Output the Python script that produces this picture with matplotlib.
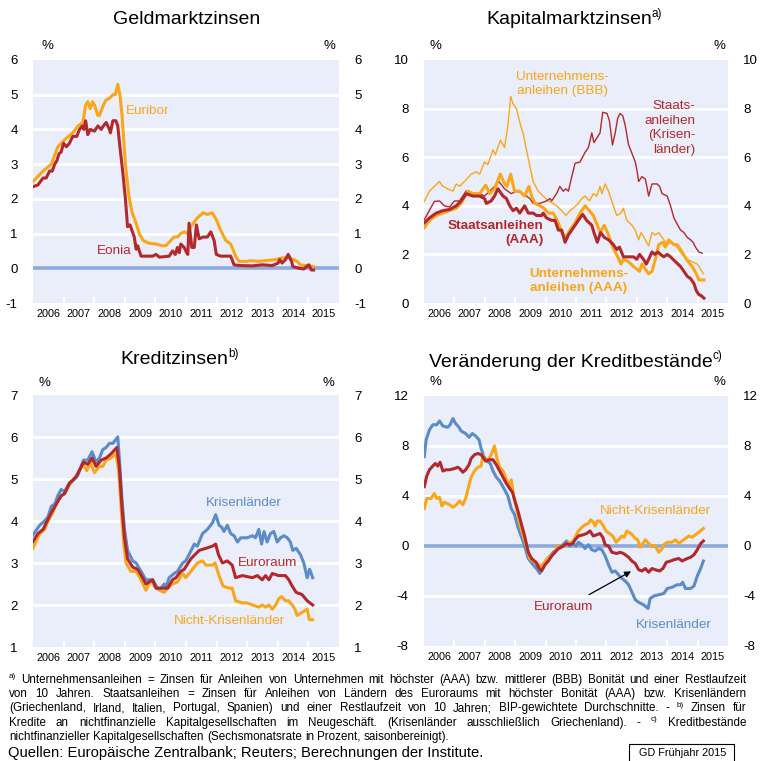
import matplotlib
matplotlib.use('Agg')
import matplotlib.pyplot as plt
import numpy as np

# ─────────────────────────────────────────────────────────────────────────────
# DATA (decimal years)
# ─────────────────────────────────────────────────────────────────────────────
euribor_t = [2006.00, 2006.33, 2006.60, 2006.81, 2007.03, 2007.30, 2007.47, 2007.63, 2007.72, 2007.79,
             2007.87, 2007.95, 2008.01, 2008.12, 2008.17, 2008.30, 2008.39, 2008.50, 2008.61, 2008.69,
             2008.77, 2008.84, 2008.91, 2009.02, 2009.13, 2009.24, 2009.37, 2009.47, 2009.60, 2009.80,
             2010.02, 2010.23, 2010.34, 2010.45, 2010.61, 2010.72, 2010.83, 2010.94, 2011.05, 2011.16,
             2011.32, 2011.43, 2011.56, 2011.70, 2011.86, 2011.99, 2012.13, 2012.30, 2012.46, 2012.51,
             2012.62, 2012.73, 2013.00, 2013.11, 2013.33, 2013.60, 2013.93, 2014.14, 2014.36, 2014.52,
             2014.63, 2014.74, 2014.90, 2015.17]
euribor_v = [2.5, 2.8, 3.0, 3.5, 3.7, 3.9, 4.1, 4.2, 4.7, 4.8,
             4.6, 4.8, 4.7, 4.4, 4.4, 4.7, 4.85, 4.9, 5.0, 5.0,
             5.3, 5.0, 4.4, 3.0, 2.1, 1.6, 1.3, 1.0, 0.8, 0.72,
             0.7, 0.65, 0.65, 0.75, 0.9, 0.9, 1.0, 1.05, 1.0, 1.2,
             1.4, 1.5, 1.6, 1.55, 1.6, 1.4, 1.1, 0.8, 0.7, 0.6,
             0.35, 0.2, 0.2, 0.22, 0.2, 0.22, 0.25, 0.3, 0.3, 0.25,
             0.2, 0.1, 0.08, 0.05]

eonia_t = [2006.00, 2006.16, 2006.33, 2006.43, 2006.54, 2006.63, 2006.71, 2006.78, 2006.85, 2006.92,
           2007.00, 2007.09, 2007.19, 2007.30, 2007.43, 2007.52, 2007.61, 2007.66, 2007.72, 2007.79,
           2007.87, 2008.01, 2008.12, 2008.23, 2008.30, 2008.39, 2008.50, 2008.53, 2008.61, 2008.71,
           2008.77, 2008.84, 2008.93, 2009.02, 2009.09, 2009.17, 2009.31, 2009.37, 2009.42, 2009.53,
           2009.91, 2010.02, 2010.13, 2010.45, 2010.56, 2010.65, 2010.72, 2010.78, 2010.83, 2010.94,
           2011.02, 2011.06, 2011.10, 2011.19, 2011.27, 2011.34, 2011.43, 2011.56, 2011.70, 2011.81,
           2011.92, 2011.99, 2012.13, 2012.46, 2012.57, 2012.73, 2013.17, 2013.49, 2013.82, 2014.01,
           2014.06, 2014.14, 2014.25, 2014.34, 2014.45, 2014.49, 2014.69, 2014.85, 2015.01, 2015.10,
           2015.17]
eonia_v = [2.35, 2.4, 2.6, 2.6, 2.8, 2.8, 3.0, 3.1, 3.3, 3.35,
           3.6, 3.5, 3.6, 3.8, 3.8, 4.0, 4.1, 4.0, 4.25, 3.85,
           4.0, 3.95, 4.1, 4.0, 4.1, 4.2, 4.0, 3.9, 4.25, 4.25,
           4.1, 3.5, 2.8, 2.0, 1.2, 1.25, 0.9, 0.55, 0.65, 0.35,
           0.35, 0.4, 0.32, 0.35, 0.5, 0.4, 0.6, 0.45, 0.7, 0.6,
           0.45, 0.4, 1.3, 0.6, 0.6, 1.25, 0.85, 0.9, 0.9, 1.05,
           0.8, 0.4, 0.35, 0.35, 0.1, 0.08, 0.07, 0.1, 0.08, 0.15,
           0.25, 0.15, 0.25, 0.4, 0.2, 0.05, 0.0, -0.02, 0.1, -0.05,
           -0.05]

krisen_gov_t = [2006.01, 2006.34, 2006.51, 2006.67, 2006.84, 2007.00, 2007.17, 2007.39, 2007.61, 2007.83,
                2007.99, 2008.16, 2008.32, 2008.46, 2008.65, 2008.87, 2009.04, 2009.26, 2009.48, 2009.59,
                2009.81, 2010.03, 2010.14, 2010.20, 2010.36, 2010.47, 2010.58, 2010.67, 2010.75, 2010.86,
                2010.97, 2011.13, 2011.30, 2011.41, 2011.52, 2011.59, 2011.74, 2011.79, 2011.88, 2012.02,
                2012.10, 2012.20, 2012.29, 2012.37, 2012.45, 2012.54, 2012.62, 2012.73, 2012.86, 2012.95,
                2013.00, 2013.06, 2013.17, 2013.28, 2013.33, 2013.39, 2013.50, 2013.67, 2013.75, 2013.83,
                2014.00, 2014.11, 2014.22, 2014.35, 2014.44, 2014.55, 2014.66, 2014.77, 2014.85, 2014.93,
                2015.04, 2015.15]
krisen_gov_v = [3.43, 4.18, 4.2, 4.0, 3.95, 4.2, 4.2, 4.62, 4.5, 4.5,
                4.4, 4.6, 4.8, 5.0, 4.7, 4.5, 4.6, 4.5, 4.3, 4.1,
                4.1, 4.2, 4.3, 4.2, 4.5, 4.8, 4.6, 4.7, 4.6, 5.2,
                5.75, 5.8, 6.2, 6.4, 7.0, 6.6, 6.9, 7.0, 7.85, 7.8,
                7.5, 6.5, 7.0, 7.6, 7.8, 7.7, 7.3, 6.5, 6.1, 5.8,
                5.5, 5.0, 5.2, 5.1, 4.8, 4.4, 4.9, 4.9, 4.8, 4.5,
                4.4, 4.0, 3.5, 3.2, 3.0, 2.9, 2.7, 2.6, 2.5, 2.3,
                2.1, 2.05]

bbb_t = [2006.01, 2006.18, 2006.34, 2006.51, 2006.62, 2006.78, 2006.95, 2007.06, 2007.17, 2007.33,
         2007.55, 2007.72, 2007.83, 2007.99, 2008.10, 2008.27, 2008.35, 2008.51, 2008.65, 2008.76,
         2008.85, 2008.93, 2009.04, 2009.20, 2009.26, 2009.37, 2009.59, 2009.76, 2009.92, 2010.09,
         2010.25, 2010.36, 2010.53, 2010.67, 2010.80, 2010.91, 2011.08, 2011.19, 2011.30, 2011.44,
         2011.57, 2011.68, 2011.79, 2011.85, 2011.96, 2012.07, 2012.23, 2012.34, 2012.48, 2012.56,
         2012.67, 2012.84, 2012.95, 2013.06, 2013.14, 2013.28, 2013.39, 2013.50, 2013.61, 2013.72,
         2013.89, 2014.00, 2014.11, 2014.33, 2014.49, 2014.66, 2014.82, 2014.99, 2015.19]
bbb_v = [4.18, 4.6, 4.8, 5.0, 4.8, 4.7, 4.6, 4.9, 4.8, 5.0,
         5.3, 5.4, 5.3, 5.8, 5.7, 6.3, 6.1, 6.7, 6.4, 7.3,
         8.5, 8.2, 8.0, 7.2, 7.0, 6.3, 5.0, 4.6, 4.4, 4.2,
         4.1, 4.0, 3.8, 3.6, 3.8, 3.9, 4.1, 4.3, 4.4, 4.2,
         4.5, 4.4, 4.8, 4.5, 4.9, 4.6, 4.0, 3.6, 3.7, 3.9,
         3.4, 3.2, 3.0, 2.6, 2.9, 2.6, 2.35, 2.9, 2.8, 2.9,
         2.6, 2.4, 2.5, 2.3, 2.0, 1.8, 1.7, 1.6, 1.2]

aaa_gov_t = [2006.01, 2006.18, 2006.40, 2006.62, 2006.84, 2007.06, 2007.22, 2007.39, 2007.61, 2007.83,
             2007.99, 2008.05, 2008.21, 2008.32, 2008.43, 2008.60, 2008.71, 2008.82, 2008.93, 2009.04,
             2009.15, 2009.31, 2009.43, 2009.59, 2009.70, 2009.87, 2009.92, 2010.03, 2010.20, 2010.31,
             2010.42, 2010.53, 2010.64, 2010.75, 2010.86, 2010.97, 2011.13, 2011.22, 2011.35, 2011.52,
             2011.59, 2011.70, 2011.81, 2011.93, 2012.07, 2012.23, 2012.34, 2012.43, 2012.56, 2012.73,
             2012.89, 2013.00, 2013.09, 2013.22, 2013.31, 2013.39, 2013.50, 2013.59, 2013.69, 2013.78,
             2013.89, 2014.00, 2014.11, 2014.27, 2014.44, 2014.55, 2014.66, 2014.77, 2014.88, 2014.96,
             2015.04, 2015.12, 2015.21]
aaa_gov_v = [3.3, 3.5, 3.7, 3.8, 3.85, 4.0, 4.2, 4.5, 4.4, 4.4,
             4.3, 4.1, 4.2, 4.4, 4.7, 4.4, 4.3, 4.0, 3.8, 3.9,
             3.7, 4.0, 3.7, 3.7, 3.6, 3.6, 3.7, 3.5, 3.4, 3.4,
             3.0, 3.0, 2.5, 2.8, 3.0, 3.2, 3.5, 3.65, 3.4, 3.2,
             2.9, 2.5, 2.9, 2.7, 2.6, 2.4, 2.2, 2.3, 1.9, 1.9,
             1.9, 1.8, 2.0, 1.8, 1.6, 1.8, 2.1, 2.0, 2.1, 2.0,
             1.9, 2.0, 1.9, 1.7, 1.5, 1.3, 1.1, 1.0, 0.8, 0.5,
             0.35, 0.3, 0.2]

aaa_corp_t = [2006.01, 2006.18, 2006.40, 2006.62, 2006.84, 2007.06, 2007.22, 2007.44, 2007.61, 2007.83,
              2008.03, 2008.16, 2008.32, 2008.51, 2008.65, 2008.73, 2008.85, 2008.98, 2009.15, 2009.31,
              2009.45, 2009.54, 2009.65, 2009.81, 2009.95, 2010.09, 2010.25, 2010.42, 2010.53, 2010.66,
              2010.80, 2010.97, 2011.13, 2011.30, 2011.44, 2011.57, 2011.70, 2011.79, 2011.93, 2012.07,
              2012.21, 2012.29, 2012.37, 2012.48, 2012.56, 2012.73, 2012.89, 2013.00, 2013.09, 2013.17,
              2013.28, 2013.39, 2013.50, 2013.61, 2013.72, 2013.86, 2013.94, 2014.05, 2014.22, 2014.33,
              2014.49, 2014.63, 2014.82, 2014.96, 2015.04, 2015.21]
aaa_corp_v = [3.1, 3.4, 3.6, 3.7, 3.8, 3.9, 4.1, 4.6, 4.5, 4.5,
              4.85, 4.5, 4.7, 5.3, 4.9, 4.8, 5.3, 4.6, 4.6, 4.4,
              4.8, 4.4, 4.1, 4.0, 3.9, 3.7, 3.7, 3.3, 2.9, 2.7,
              3.0, 3.3, 3.7, 4.0, 3.8, 3.6, 3.2, 2.9, 3.2, 2.8,
              2.3, 2.1, 1.9, 1.6, 1.8, 1.7, 1.5, 1.4, 1.3, 1.6,
              1.4, 1.2, 1.3, 1.8, 2.4, 2.5, 2.3, 2.6, 2.4, 2.4,
              2.1, 1.8, 1.5, 1.2, 0.95, 0.95]

# Kreditzinsen
kz_krisen_t = [2006.00, 2006.22, 2006.38, 2006.49, 2006.60, 2006.71, 2006.81, 2006.92, 2007.03, 2007.19,
               2007.36, 2007.47, 2007.65, 2007.79, 2007.93, 2008.06, 2008.17, 2008.28, 2008.39, 2008.50,
               2008.61, 2008.77, 2008.82, 2008.91, 2008.99, 2009.09, 2009.26, 2009.37, 2009.53, 2009.69,
               2009.91, 2010.07, 2010.18, 2010.29, 2010.34, 2010.45, 2010.61, 2010.72, 2010.89, 2010.99,
               2011.10, 2011.27, 2011.37, 2011.54, 2011.70, 2011.86, 2011.97, 2012.08, 2012.17, 2012.24,
               2012.35, 2012.46, 2012.57, 2012.68, 2012.79, 2013.00, 2013.17, 2013.27, 2013.38, 2013.47,
               2013.55, 2013.65, 2013.76, 2013.87, 2013.98, 2014.09, 2014.20, 2014.31, 2014.41, 2014.49,
               2014.60, 2014.74, 2014.85, 2014.96, 2015.04, 2015.14]
kz_krisen_v = [3.67, 3.9, 4.0, 4.1, 4.35, 4.4, 4.6, 4.75, 4.7, 4.9,
               5.0, 5.1, 5.45, 5.45, 5.65, 5.4, 5.5, 5.7, 5.75, 5.85,
               5.85, 6.0, 5.5, 4.5, 3.8, 3.3, 3.05, 3.0, 2.8, 2.6,
               2.6, 2.4, 2.4, 2.5, 2.4, 2.65, 2.75, 2.8, 3.0, 3.05,
               3.2, 3.45, 3.4, 3.7, 3.8, 3.95, 4.15, 3.9, 3.85, 3.75,
               3.9, 3.7, 3.65, 3.5, 3.6, 3.6, 3.65, 3.6, 3.8, 3.45,
               3.75, 3.5, 3.7, 3.75, 3.5, 3.6, 3.65, 3.6, 3.5, 3.3,
               3.35, 3.2, 3.0, 2.65, 2.85, 2.65]

kz_euro_t = [2006.00, 2006.16, 2006.33, 2006.43, 2006.60, 2006.76, 2006.92, 2007.03, 2007.19, 2007.41,
             2007.65, 2007.79, 2007.93, 2008.06, 2008.23, 2008.39, 2008.55, 2008.74, 2008.82, 2008.91,
             2008.99, 2009.09, 2009.26, 2009.42, 2009.58, 2009.69, 2009.91, 2010.02, 2010.23, 2010.40,
             2010.56, 2010.67, 2010.83, 2010.94, 2011.16, 2011.43, 2011.65, 2011.86, 2011.97, 2012.06,
             2012.19, 2012.35, 2012.51, 2012.62, 2012.84, 2013.17, 2013.33, 2013.49, 2013.60, 2013.71,
             2013.82, 2014.03, 2014.25, 2014.36, 2014.47, 2014.60, 2014.79, 2014.96, 2015.14]
kz_euro_v = [3.51, 3.7, 3.8, 3.95, 4.2, 4.4, 4.6, 4.65, 4.9, 5.05,
             5.4, 5.35, 5.5, 5.3, 5.45, 5.5, 5.6, 5.75, 5.3, 4.3,
             3.6, 3.1, 2.9, 2.85, 2.65, 2.5, 2.6, 2.4, 2.4, 2.4,
             2.6, 2.65, 2.8, 2.85, 3.1, 3.3, 3.35, 3.4, 3.45, 3.2,
             3.0, 3.05, 2.95, 2.65, 2.7, 2.65, 2.7, 2.6, 2.7, 2.6,
             2.75, 2.7, 2.7, 2.6, 2.45, 2.3, 2.25, 2.1, 2.0]

kz_nicht_t = [2006.00, 2006.22, 2006.38, 2006.49, 2006.65, 2006.78, 2006.92, 2007.03, 2007.19, 2007.39,
              2007.63, 2007.76, 2007.87, 2008.01, 2008.17, 2008.28, 2008.39, 2008.55, 2008.71, 2008.80,
              2008.89, 2008.96, 2009.04, 2009.20, 2009.37, 2009.53, 2009.69, 2009.85, 2009.96, 2010.13,
              2010.29, 2010.40, 2010.56, 2010.72, 2010.89, 2010.99, 2011.16, 2011.37, 2011.54, 2011.65,
              2011.86, 2011.95, 2012.08, 2012.21, 2012.41, 2012.51, 2012.62, 2012.84, 2013.00, 2013.17,
              2013.38, 2013.49, 2013.60, 2013.71, 2013.82, 2013.93, 2014.03, 2014.12, 2014.25, 2014.36,
              2014.47, 2014.56, 2014.63, 2014.74, 2014.85, 2014.96, 2015.03, 2015.14]
kz_nicht_v = [3.35, 3.7, 3.8, 4.0, 4.2, 4.45, 4.6, 4.65, 4.85, 5.05,
              5.35, 5.2, 5.4, 5.15, 5.3, 5.3, 5.45, 5.5, 5.6, 5.2,
              4.2, 3.5, 3.0, 2.8, 2.8, 2.6, 2.35, 2.6, 2.45, 2.35,
              2.3, 2.4, 2.5, 2.55, 2.75, 2.65, 2.8, 3.0, 3.05, 2.95,
              2.95, 3.0, 2.7, 2.45, 2.4, 2.4, 2.1, 2.05, 2.05, 2.0,
              1.95, 2.0, 1.95, 2.0, 1.9, 2.0, 2.15, 2.2, 2.1, 2.1,
              2.0, 1.9, 1.75, 1.8, 1.85, 1.9, 1.65, 1.65]

# Veränderung der Kreditbestände
kb_krisen_t = [2006.01, 2006.07, 2006.18, 2006.29, 2006.42, 2006.51, 2006.62, 2006.78, 2006.86, 2006.95,
               2007.04, 2007.15, 2007.22, 2007.37, 2007.48, 2007.59, 2007.70, 2007.81, 2007.88, 2007.96,
               2008.07, 2008.18, 2008.27, 2008.38, 2008.49, 2008.65, 2008.76, 2008.87, 2008.98, 2009.09,
               2009.24, 2009.31, 2009.43, 2009.59, 2009.70, 2009.81, 2009.92, 2010.03, 2010.14, 2010.25,
               2010.42, 2010.53, 2010.69, 2010.80, 2010.91, 2011.00, 2011.08, 2011.19, 2011.30, 2011.41,
               2011.52, 2011.63, 2011.74, 2011.85, 2011.96, 2012.07, 2012.18, 2012.29, 2012.40, 2012.51,
               2012.62, 2012.73, 2012.86, 2012.95, 2013.06, 2013.22, 2013.37, 2013.44, 2013.56, 2013.72,
               2013.89, 2014.00, 2014.16, 2014.33, 2014.44, 2014.51, 2014.60, 2014.77, 2014.88, 2014.99,
               2015.10, 2015.19]
kb_krisen_v = [7.15, 8.5, 9.3, 9.7, 9.7, 10.0, 9.6, 9.5, 9.7, 10.2,
               9.8, 9.5, 9.2, 9.0, 8.7, 9.0, 8.8, 8.5, 7.8, 7.2,
               6.8, 6.6, 6.0, 5.5, 5.2, 4.5, 4.0, 3.0, 2.5, 1.5,
               0.5, 0.0, -1.0, -1.5, -1.8, -2.2, -1.5, -1.2, -0.8, -0.5,
               -0.2, 0.0, 0.4, 0.0, 0.2, 0.0, 0.3, 0.1, -0.2, 0.1,
               -0.3, -0.4, -0.2, -0.3, -0.8, -1.5, -2.1, -2.0, -2.3, -2.6,
               -2.8, -3.1, -3.8, -4.3, -4.5, -4.7, -5.0, -4.2, -4.0, -3.9,
               -3.8, -3.4, -3.3, -3.1, -3.1, -2.9, -3.4, -3.4, -3.2, -2.4,
               -1.8, -1.2]

kb_euro_t = [2006.01, 2006.09, 2006.18, 2006.29, 2006.37, 2006.45, 2006.53, 2006.62, 2006.73, 2006.84,
             2007.01, 2007.11, 2007.17, 2007.28, 2007.37, 2007.48, 2007.55, 2007.66, 2007.77, 2007.88,
             2008.03, 2008.16, 2008.27, 2008.38, 2008.49, 2008.60, 2008.71, 2008.82, 2008.91, 2008.98,
             2009.09, 2009.20, 2009.31, 2009.43, 2009.54, 2009.68, 2009.79, 2009.87, 2009.98, 2010.09,
             2010.20, 2010.31, 2010.42, 2010.58, 2010.69, 2010.78, 2010.89, 2010.97, 2011.08, 2011.24,
             2011.35, 2011.46, 2011.57, 2011.68, 2011.79, 2011.88, 2011.96, 2012.07, 2012.18, 2012.34,
             2012.45, 2012.56, 2012.73, 2012.84, 2012.95, 2013.06, 2013.17, 2013.28, 2013.39, 2013.50,
             2013.61, 2013.75, 2013.86, 2013.97, 2014.11, 2014.22, 2014.38, 2014.49, 2014.66, 2014.77,
             2014.88, 2014.99, 2015.10, 2015.19]
kb_euro_v = [4.75, 5.6, 6.1, 6.4, 6.6, 6.4, 6.7, 6.0, 6.1, 6.1,
             6.2, 6.3, 6.2, 5.9, 6.1, 6.5, 7.0, 7.3, 7.4, 7.3,
             6.8, 6.9, 6.9, 6.5, 6.0, 5.5, 5.0, 4.6, 4.3, 3.7,
             2.8, 1.8, 0.8, -0.5, -1.0, -1.3, -1.8, -2.0, -1.5, -1.2,
             -0.8, -0.5, -0.2, 0.0, 0.2, 0.1, 0.2, 0.5, 0.8, 0.9,
             1.0, 1.2, 0.8, 0.9, 1.0, 0.7, 0.1, 0.0, -0.5, -0.6,
             -0.5, -0.6, -0.9, -1.2, -1.4, -1.9, -2.0, -1.8, -2.1, -1.8,
             -1.9, -2.0, -1.8, -1.3, -1.2, -1.1, -1.0, -1.2, -1.0, -0.9,
             -0.7, -0.3, 0.2, 0.4]

kb_nicht_t = [2006.01, 2006.09, 2006.23, 2006.34, 2006.42, 2006.51, 2006.59, 2006.67, 2006.84, 2006.95,
              2007.06, 2007.17, 2007.28, 2007.37, 2007.44, 2007.55, 2007.66, 2007.77, 2007.88, 2007.94,
              2008.03, 2008.14, 2008.21, 2008.32, 2008.40, 2008.49, 2008.60, 2008.73, 2008.80, 2008.87,
              2008.95, 2009.04, 2009.13, 2009.24, 2009.37, 2009.48, 2009.59, 2009.70, 2009.83, 2009.94,
              2010.05, 2010.20, 2010.31, 2010.39, 2010.47, 2010.58, 2010.75, 2010.89, 2010.97, 2011.08,
              2011.19, 2011.30, 2011.41, 2011.48, 2011.57, 2011.63, 2011.70, 2011.79, 2011.90, 2011.99,
              2012.10, 2012.21, 2012.32, 2012.40, 2012.51, 2012.59, 2012.67, 2012.81, 2012.95, 2013.03,
              2013.11, 2013.20, 2013.28, 2013.39, 2013.50, 2013.61, 2013.72, 2013.81, 2013.89, 2014.00,
              2014.16, 2014.27, 2014.38, 2014.49, 2014.60, 2014.71, 2014.82, 2014.93, 2015.04, 2015.19]
kb_nicht_v = [3.0, 3.8, 3.8, 4.2, 3.8, 3.9, 3.2, 3.5, 3.3, 3.1,
              3.3, 3.6, 3.3, 3.8, 4.5, 5.5, 6.0, 6.3, 6.4, 7.2,
              6.8, 7.0, 7.3, 8.0, 7.0, 6.3, 6.0, 5.2, 4.8, 5.3,
              4.0, 3.0, 2.0, 1.0, 0.0, -1.0, -1.2, -1.3, -1.7, -1.4,
              -1.0, -0.7, -0.5, 0.0, -0.2, 0.0, 0.3, 0.3, 0.7, 1.2,
              1.5, 1.7, 1.8, 2.1, 1.9, 1.6, 2.0, 2.0, 1.6, 1.2,
              1.0, 0.8, 0.3, 0.5, 0.8, 0.7, 1.2, 1.0, 0.6, 0.5,
              -0.1, 0.2, 0.5, 0.2, 0.0, 0.0, -0.5, -0.3, 0.1, 0.3,
              0.3, 0.5, 0.2, 0.4, 0.6, 0.8, 0.7, 0.9, 1.1, 1.4]

years = list(range(2006, 2016))

footnote_lines = [
    "^a) Unternehmensanleihen = Zinsen für Anleihen von Unternehmen mit höchster (AAA) bzw. mittlerer (BBB) Bonität und einer Restlaufzeit",
    "von 10 Jahren. Staatsanleihen = Zinsen für Anleihen von Ländern des Euroraums mit höchster Bonität (AAA) bzw. Krisenländern",
    "(Griechenland, Irland, Italien, Portugal, Spanien) und einer Restlaufzeit von 10 Jahren; BIP-gewichtete Durchschnitte. - ^b) Zinsen für",
    "Kredite an nichtfinanzielle Kapitalgesellschaften im Neugeschäft. (Krisenländer ausschließlich Griechenland). - ^c) Kreditbestände",
    "nichtfinanzieller Kapitalgesellschaften (Sechsmonatsrate in Prozent, saisonbereinigt).",
]
source_text = "Quellen: Europäische Zentralbank; Reuters; Berechnungen der Institute."
stamp_text = "GD Frühjahr 2015"

# ─────────────────────────────────────────────────────────────────────────────
# STYLE
# ─────────────────────────────────────────────────────────────────────────────
BG = '#E9EEFA'
ORANGE = '#FAA61A'
RED = '#B3282D'
BLUE = '#5B8CC8'
ZERO = '#8EA9DB'
W = H = 761

plt.rcParams['font.family'] = ['Liberation Sans', 'DejaVu Sans']
NARROW = ['Liberation Sans Narrow', 'Liberation Sans', 'DejaVu Sans']

fig = plt.figure(figsize=(7.61, 7.61), dpi=100)


def px(x, y):
    """Pixel position (from top-left) -> figure fraction."""
    return x / W, 1 - y / H


def make_axes(left, top, right, bottom, ylim, yticks, zero=False):
    ax = fig.add_axes([left / W, 1 - bottom / H, (right - left) / W, (bottom - top) / H])
    ax.set_facecolor(BG)
    ax.set_xlim(2006, 2016)
    ax.set_ylim(*ylim)
    ax.set_yticks(yticks)
    ax.set_yticklabels([f'{t:g}' for t in yticks])
    ax.tick_params(axis='y', length=0, labelsize=9.5, pad=11, labelright=True, right=False)
    ax.set_xticks(np.array(years) + 0.5)
    ax.set_xticklabels([str(y) for y in years])
    ax.set_xticks(np.array(years[1:]), minor=True)
    ax.tick_params(axis='x', which='major', length=0, labelsize=7.8, pad=4)
    ax.tick_params(axis='x', which='minor', direction='in', length=4, width=1.5, color='white')
    for s in ax.spines.values():
        s.set_visible(False)
    for t in yticks[1:-1]:
        ax.axhline(t, color='white', lw=2, zorder=1)
    if zero:
        ax.axhline(0, color=ZERO, lw=2.6, zorder=2)
    return ax


def percent(xl, xr, y):
    fig.text(*px(xl, y), '%', ha='center', va='center', fontsize=9.5)
    fig.text(*px(xr, y), '%', ha='center', va='center', fontsize=9.5)


# ─────────────────────────────────────────────────────────────────────────────
# PANEL 1: Geldmarktzinsen
# ─────────────────────────────────────────────────────────────────────────────
ax1 = make_axes(33, 60, 339, 303, (-1, 6), list(range(-1, 7)), zero=True)
ax1.plot(euribor_t, euribor_v, color=ORANGE, lw=2.2, zorder=3)
ax1.plot(eonia_t, eonia_v, color=RED, lw=2.2, zorder=4)
ax1.text(2009.75, 4.52, 'Euribor', color=ORANGE, fontsize=9.7, ha='center', va='center')
ax1.text(2008.64, 0.5, 'Eonia', color=RED, fontsize=9.7, ha='center', va='center')
percent(47, 329, 46)

# ─────────────────────────────────────────────────────────────────────────────
# PANEL 2: Kapitalmarktzinsen
# ─────────────────────────────────────────────────────────────────────────────
ax2 = make_axes(424, 60, 728, 303, (0, 10), list(range(0, 11, 2)))
ax2.plot(bbb_t, bbb_v, color=ORANGE, lw=1.0, zorder=3)
ax2.plot(krisen_gov_t, krisen_gov_v, color=RED, lw=1.0, zorder=3)
ax2.plot(aaa_corp_t, aaa_corp_v, color=ORANGE, lw=2.2, zorder=4)
ax2.plot(aaa_gov_t, aaa_gov_v, color=RED, lw=2.2, zorder=5)
ax2.text(2010.56, 9.0, 'Unternehmens-\nanleihen (BBB)', color=ORANGE, fontsize=9.7,
         ha='center', va='center', linespacing=1.2)
ax2.text(2014.93, 7.2, 'Staats-\nanleihen\n(Krisen-\nländer)', color=RED, fontsize=9.7,
         ha='right', va='center', multialignment='right', linespacing=1.3)
ax2.text(2009.92, 2.89, 'Staatsanleihen\n(AAA)', color=RED, fontsize=9.7, fontweight='bold',
         ha='right', va='center', multialignment='right', linespacing=1.2)
ax2.text(2011.08, 0.91, 'Unternehmens-\nanleihen (AAA)', color=ORANGE, fontsize=9.7,
         fontweight='bold', ha='center', va='center', linespacing=1.25)
percent(435, 719, 46)

# ─────────────────────────────────────────────────────────────────────────────
# PANEL 3: Kreditzinsen
# ─────────────────────────────────────────────────────────────────────────────
ax3 = make_axes(33, 395, 339, 647, (1, 7), list(range(1, 8)))
ax3.plot(kz_nicht_t, kz_nicht_v, color=ORANGE, lw=2.2, zorder=3)
ax3.plot(kz_euro_t, kz_euro_v, color=RED, lw=2.2, zorder=4)
ax3.plot(kz_krisen_t, kz_krisen_v, color=BLUE, lw=2.2, zorder=3)
ax3.text(2012.89, 4.44, 'Krisenländer', color=BLUE, fontsize=9.7, ha='center', va='center')
ax3.text(2013.65, 3.0, 'Euroraum', color=RED, fontsize=9.7, ha='center', va='center')
ax3.text(2012.41, 1.61, 'Nicht-Krisenländer', color=ORANGE, fontsize=9.7, ha='center', va='center')
percent(44, 328, 383)

# ─────────────────────────────────────────────────────────────────────────────
# PANEL 4: Veränderung der Kreditbestände
# ─────────────────────────────────────────────────────────────────────────────
ax4 = make_axes(424, 396, 728, 646, (-8, 12), list(range(-8, 13, 4)), zero=True)
ax4.plot(kb_krisen_t, kb_krisen_v, color=BLUE, lw=2.2, zorder=3)
ax4.plot(kb_nicht_t, kb_nicht_v, color=ORANGE, lw=2.2, zorder=4)
ax4.plot(kb_euro_t, kb_euro_v, color=RED, lw=2.2, zorder=5)
ax4.text(2013.61, 2.83, 'Nicht-Krisenländer', color=ORANGE, fontsize=9.7, ha='center', va='center')
ax4.text(2010.58, -4.85, 'Euroraum', color=RED, fontsize=9.7, ha='center', va='center')
ax4.text(2014.22, -6.3, 'Krisenländer', color=BLUE, fontsize=9.7, ha='center', va='center')
ax4.annotate('', xy=(2012.89, -1.92), xytext=(2011.35, -4.0),
             arrowprops=dict(arrowstyle='-|>', color='black', lw=0.9, mutation_scale=9), zorder=6)
percent(435, 719, 382)

# ─────────────────────────────────────────────────────────────────────────────
# TITLES (superscript placed right after each title)
# ─────────────────────────────────────────────────────────────────────────────
for xc, y, text, sup in [(187, 20, 'Geldmarktzinsen', None),
                         (569, 20, 'Kapitalmarktzinsen', 'a)'),
                         (174, 360, 'Kreditzinsen', 'b)'),
                         (571, 362, 'Veränderung der Kreditbestände', 'c)')]:
    t = fig.text(*px(xc, y), text, ha='center', va='center', fontsize=14)
    if sup:
        fig.add_artist(matplotlib.text.Annotation(sup, xy=(1.0, 0.5), xycoords=t,
                                                  fontsize=8.5, ha='left', va='bottom'))

# ─────────────────────────────────────────────────────────────────────────────
# FOOTNOTES (justified lines, last one left aligned)
# ─────────────────────────────────────────────────────────────────────────────
renderer = fig.canvas.get_renderer()
x_left, x_right = 9, 746
fn_size = 8.4


def text_width(s, size, family):
    t = fig.text(0, 0, s, fontsize=size, family=family)
    w = t.get_window_extent(renderer).width
    t.remove()
    return w


space_w = text_width('a b', fn_size, NARROW) - text_width('ab', fn_size, NARROW)

for i, line in enumerate(footnote_lines):
    y = 680 + i * 14.2
    items = []
    for w in line.split(' '):
        if w.startswith('^'):
            t = fig.text(0, 1 - (y - 3) / H, w[1:], fontsize=5.8, family=NARROW, va='center')
        else:
            t = fig.text(0, 1 - y / H, w, fontsize=fn_size, family=NARROW, va='center')
        items.append(t)
    widths = [t.get_window_extent(renderer).width for t in items]
    if i < len(footnote_lines) - 1:
        gap = (x_right - x_left - sum(widths)) / (len(items) - 1)
    else:
        gap = space_w
    pos = x_left
    for t, w in zip(items, widths):
        t.set_x(pos / W)
        pos += w + gap

fig.text(*px(8, 753), source_text, ha='left', va='center', fontsize=10.6)
fig.text(*px(683, 753), stamp_text, ha='center', va='center', fontsize=7.8, family=NARROW)
fig.add_artist(plt.Rectangle(px(629, 766), 105 / W, 22 / H, fill=False, ec='black', lw=0.8,
                             transform=fig.transFigure, clip_on=False))

fig.savefig('out.png', dpi=100)
